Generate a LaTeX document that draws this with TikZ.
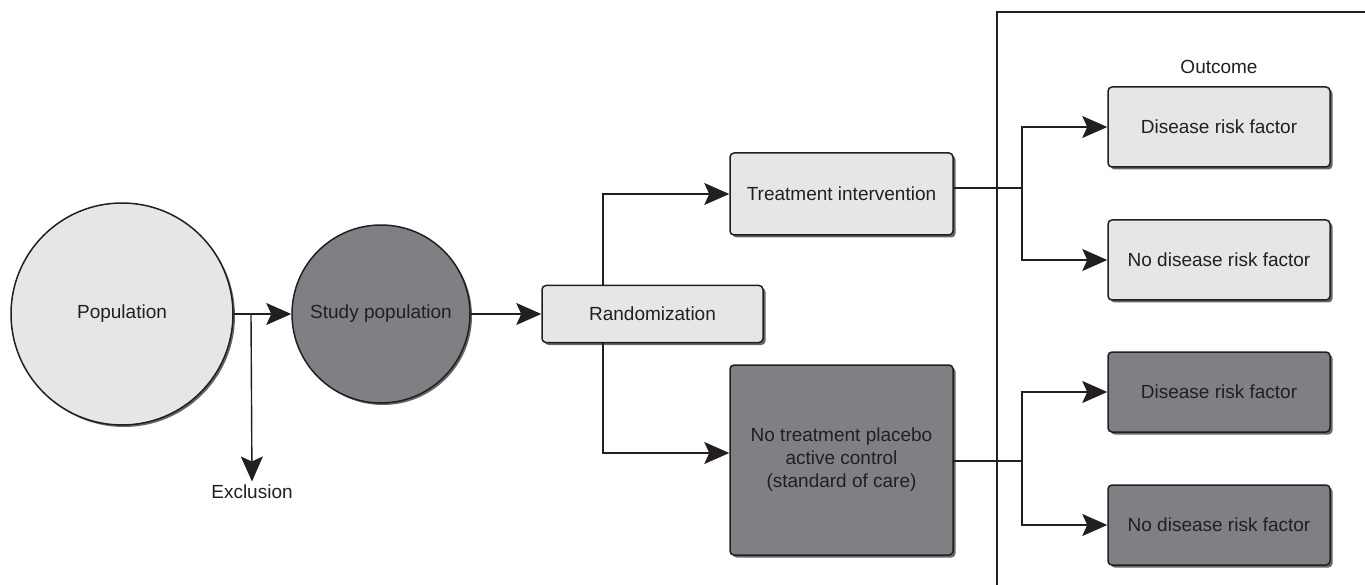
\documentclass[tikz,border=0pt]{standalone}
\usepackage{fontspec}
\setmainfont{Liberation Sans}
\usetikzlibrary{arrows.meta,shadows}
\definecolor{lightbox}{HTML}{E5E6E8}
\definecolor{darkbox}{HTML}{7F8084}
\definecolor{inkline}{HTML}{231F20}
\tikzset{
  stage/.style={draw=inkline, line width=1.5pt, rounded corners=4pt, align=center,
    text=inkline, inner sep=0pt,
    drop shadow={shadow xshift=2.5pt, shadow yshift=-2.5pt, fill=black!75, opacity=0.8}},
  lightstage/.style={stage, fill=lightbox},
  darkstage/.style={stage, fill=darkbox},
  crowd/.style={circle, draw=inkline, line width=1.5pt, inner sep=0pt, text=inkline,
    drop shadow={shadow xshift=2pt, shadow yshift=-2pt, fill=black!75, opacity=0.8}},
  link/.style={line width=1.4pt, draw=inkline},
  flow/.style={link, -{Stealth[length=25pt,width=22pt,inset=5pt]}}
}
\begin{document}
\begin{tikzpicture}[x=1pt, y=-1pt, font=\fontsize{19}{23}\selectfont]
      \useasboundingbox (0,0) rectangle (1365,585);
      \node[crowd, fill=lightbox, minimum size=222pt] (pop) at (122,314) {Population};
      \node[crowd, fill=darkbox, minimum size=178pt] (study) at (381,314) {Study population};
      \node[lightstage, minimum width=221pt, minimum height=57pt] (rand) at (652.5,314) {Randomization};
      \node[lightstage, minimum width=223pt, minimum height=82pt] (treat) at (841.5,194) {Treatment intervention};
      \node[darkstage, minimum width=223pt, minimum height=190pt] (ctrl) at (841.5,460)
        {No treatment placebo\\active control\\(standard of care)};
      \node[text=inkline] (excl) at (252,492) {Exclusion};
      \node[text=inkline] (outcome) at (1219,67) {Outcome};
      \node[lightstage, minimum width=222pt, minimum height=80pt] (risk1) at (1219,127) {Disease risk factor};
      \node[lightstage, minimum width=222pt, minimum height=80pt] (norisk1) at (1219,260) {No disease risk factor};
      \node[darkstage, minimum width=222pt, minimum height=80pt] (risk2) at (1219,392) {Disease risk factor};
      \node[darkstage, minimum width=222pt, minimum height=80pt] (norisk2) at (1219,525) {No disease risk factor};
      \coordinate (split) at (251,314);
      \coordinate (upfork) at (1022,188);
      \coordinate (downfork) at (1022,461);
      % outcome frame
      \draw[link] (997,585) -- (997,12) -- (1365,12);
      \begin{scope}
        \draw[flow] (pop.east) -- (study.west);
        \draw[flow] (split) -- (excl.north);
        \draw[flow] (study.east) -- (rand.west);
        \draw[flow] ([xshift=-49.5pt]rand.north) |- (treat.west);
        \draw[flow] ([xshift=-49.5pt]rand.south) |- ([yshift=7pt]ctrl.west);
        \draw[link] (treat.east |- upfork) -- (upfork);
        \draw[link] (ctrl.east |- downfork) -- (downfork);
        \draw[flow] (upfork) |- (risk1.west);
        \draw[flow] (upfork) |- (norisk1.west);
        \draw[flow] (downfork) |- (risk2.west);
        \draw[flow] (downfork) |- (norisk2.west);
      \end{scope}
    \end{tikzpicture}
\end{document}
